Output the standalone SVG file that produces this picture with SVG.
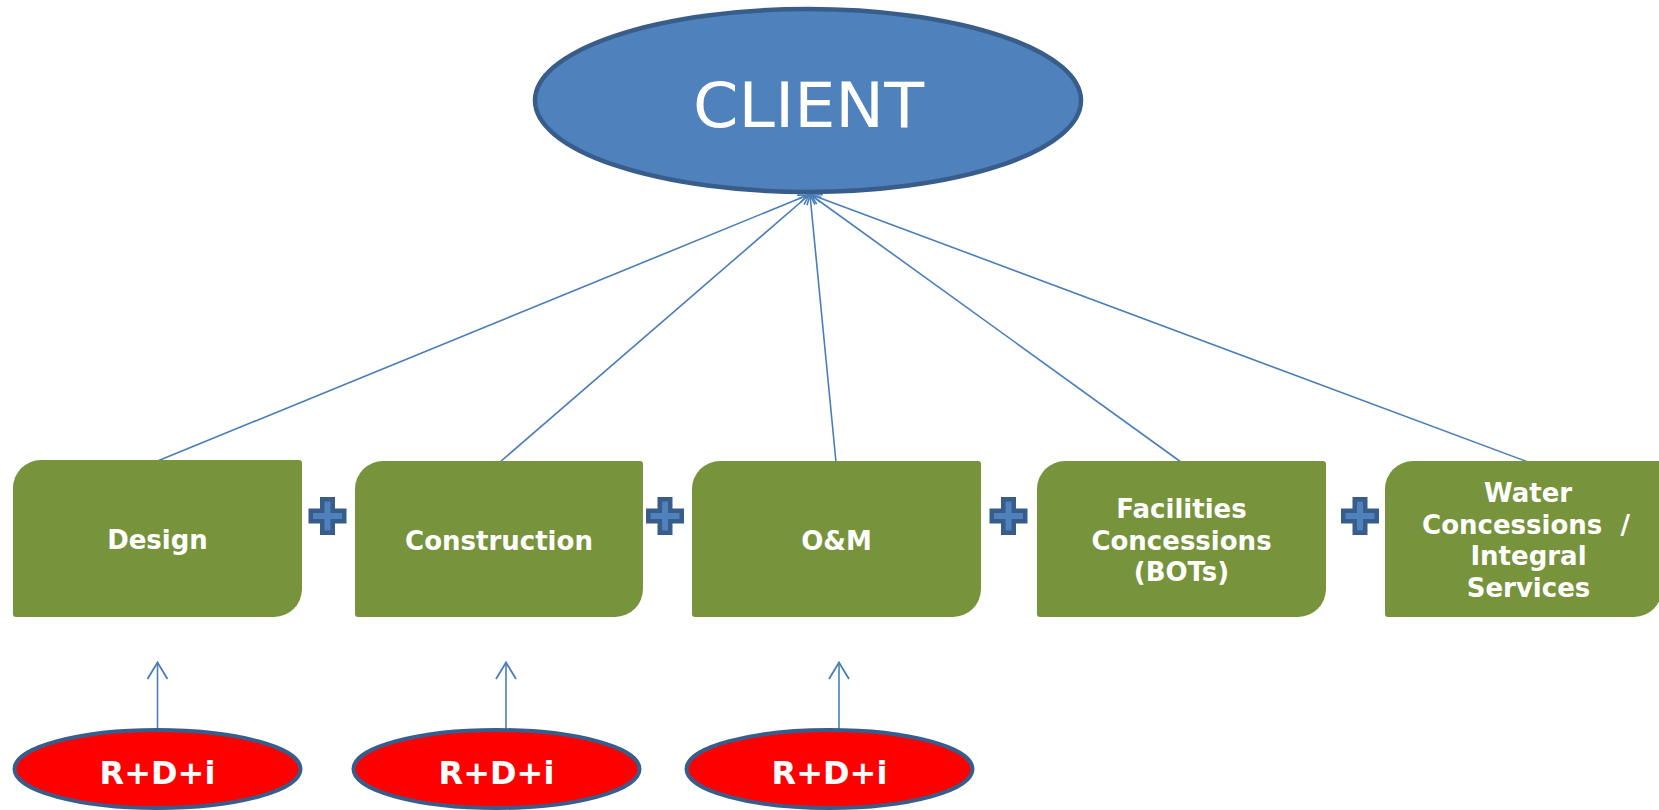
<svg xmlns="http://www.w3.org/2000/svg" width="1659" height="810" viewBox="0 0 1659 810">
<style>
.box{fill:#77933c;}
.btxt{font-family:"DejaVu Sans","Verdana",sans-serif;font-weight:bold;font-size:26px;fill:#ffffff;text-anchor:middle;}
.rtxt{font-family:"DejaVu Sans","Verdana",sans-serif;font-weight:bold;font-size:32px;fill:#ffffff;text-anchor:middle;}
.red{fill:#ff0000;stroke:#385d8a;stroke-width:4;}
.con{stroke:#4a7ebb;stroke-width:1.6;fill:none;}
.plus{fill:#4f81bd;stroke:#385d8a;stroke-width:4.5;stroke-linejoin:miter;}
</style>
<defs>
<marker id="arrS" viewBox="0 0 12 10" refX="11" refY="5" markerWidth="12" markerHeight="10" markerUnits="userSpaceOnUse" orient="auto">
<path d="M1,1 L11,5 L1,9" fill="none" stroke="#4a7ebb" stroke-width="1.6"/>
</marker>
<marker id="arrB" viewBox="0 0 19 22" refX="18" refY="11" markerWidth="19" markerHeight="22" markerUnits="userSpaceOnUse" orient="auto">
<path d="M1,1 L17.5,11 L1,21" fill="none" stroke="#4a7ebb" stroke-width="1.8"/>
</marker>
<path id="plusShape" d="M-5.25,-16.75 H5.25 V-5.25 H16.75 V5.25 H5.25 V16.75 H-5.25 V5.25 H-16.75 V-5.25 H-5.25 Z"/>
</defs>

<g id="connectors">
<line class="con" x1="157.5" y1="461" x2="808" y2="195" marker-end="url(#arrS)"/>
<line class="con" x1="500" y1="462" x2="809" y2="195" marker-end="url(#arrS)"/>
<line class="con" x1="836" y1="462" x2="810" y2="195" marker-end="url(#arrS)"/>
<line class="con" x1="1181" y1="462" x2="811" y2="195" marker-end="url(#arrS)"/>
<line class="con" x1="1528" y1="462" x2="812" y2="195" marker-end="url(#arrS)"/>
<line class="con" x1="157.5" y1="729" x2="157.5" y2="662" marker-end="url(#arrB)"/>
<line class="con" x1="506" y1="729" x2="506" y2="662" marker-end="url(#arrB)"/>
<line class="con" x1="839" y1="729" x2="839" y2="662" marker-end="url(#arrB)"/>
</g>

<g id="client">
<ellipse cx="808" cy="100.5" rx="273" ry="91.5" fill="#4f81bd" stroke="#385d8a" stroke-width="4.5"/>
<text x="808.5" y="127" font-family="DejaVu Sans, Verdana, sans-serif" font-size="63" fill="#ffffff" text-anchor="middle" textLength="231" lengthAdjust="spacingAndGlyphs">CLIENT</text>
</g>

<g id="design">
<path class="box" d="M41,460 H299 A3,3 0 0 1 302,463 V589 A28,28 0 0 1 274,617 H16 A3,3 0 0 1 13,614 V488 A28,28 0 0 1 41,460 Z"/>
<text class="btxt" x="157.5" y="549">Design</text>
</g>

<g id="construction">
<path class="box" d="M383,461 H640 A3,3 0 0 1 643,464 V589 A28,28 0 0 1 615,617 H358 A3,3 0 0 1 355,614 V489 A28,28 0 0 1 383,461 Z"/>
<text class="btxt" x="499" y="550">Construction</text>
</g>

<g id="om">
<path class="box" d="M720,461 H978 A3,3 0 0 1 981,464 V589 A28,28 0 0 1 953,617 H695 A3,3 0 0 1 692,614 V489 A28,28 0 0 1 720,461 Z"/>
<text class="btxt" x="836.5" y="550">O&amp;M</text>
</g>

<g id="facilities">
<path class="box" d="M1065,461 H1323 A3,3 0 0 1 1326,464 V589 A28,28 0 0 1 1298,617 H1040 A3,3 0 0 1 1037,614 V489 A28,28 0 0 1 1065,461 Z"/>
<text class="btxt" x="1181.5" y="518">Facilities</text>
<text class="btxt" x="1181.5" y="549.5">Concessions</text>
<text class="btxt" x="1181.5" y="581">(BOTs)</text>
</g>

<g id="water">
<path class="box" d="M1413,461 H1659 A3,3 0 0 1 1662,464 V589 A28,28 0 0 1 1634,617 H1388 A3,3 0 0 1 1385,614 V489 A28,28 0 0 1 1413,461 Z"/>
<text class="btxt" x="1528" y="502">Water</text>
<text class="btxt" x="1526" y="533.5" xml:space="preserve">Concessions  /</text>
<text class="btxt" x="1528.5" y="565">Integral</text>
<text class="btxt" x="1528.5" y="596.5">Services</text>
</g>

<g id="plus1"><use href="#plusShape" class="plus" x="327.5" y="516"/></g>
<g id="plus2"><use href="#plusShape" class="plus" x="665" y="516"/></g>
<g id="plus3"><use href="#plusShape" class="plus" x="1008.5" y="516"/></g>
<g id="plus4"><use href="#plusShape" class="plus" x="1360" y="516"/></g>

<g id="rdi1">
<ellipse class="red" cx="157.5" cy="769" rx="143" ry="39"/>
<text class="rtxt" x="157.5" y="784">R+D+i</text>
</g>
<g id="rdi2">
<ellipse class="red" cx="496.5" cy="769" rx="143" ry="39"/>
<text class="rtxt" x="496.5" y="784">R+D+i</text>
</g>
<g id="rdi3">
<ellipse class="red" cx="829.5" cy="769" rx="143" ry="39"/>
<text class="rtxt" x="829.5" y="784">R+D+i</text>
</g>
</svg>
